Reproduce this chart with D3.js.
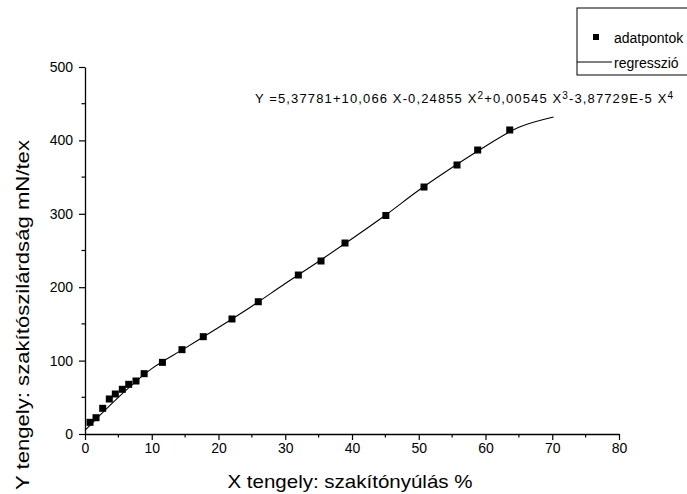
<!DOCTYPE html>
<html>
<head>
<meta charset="utf-8">
<script src="https://cdn.jsdelivr.net/npm/d3@7"></script>
<style>
  html, body { margin: 0; padding: 0; background: #fff; }
  svg { display: block; font-family: "Liberation Sans", Arial, sans-serif; }
</style>
</head>
<body>
<svg id="chart" width="687" height="494"></svg>
<script>
// ---- data ----
const pointX = [0.75, 1.65, 2.65, 3.64, 4.54, 5.59, 6.55, 7.64, 8.86, 11.6, 14.53, 17.72, 22.02, 25.96, 31.96, 35.36, 38.95, 45.07, 50.79, 55.73, 58.83, 63.63];
const pointY = [15.9, 22.2, 35.0, 47.7, 54.5, 60.9, 67.7, 72.2, 82.2, 97.6, 114.9, 132.6, 156.7, 180.2, 216.6, 235.7, 260.2, 297.7, 336.5, 366.5, 386.9, 414.2];
const curveX = [0, 5, 10, 15, 20, 25, 30, 35, 40, 45, 50, 55, 60, 65, 70.2];
const curveY = [5, 50, 89, 117, 145, 174, 205, 235, 266, 298, 332, 363, 392, 418, 432];
const xTicks = [0, 10, 20, 30, 40, 50, 60, 70, 80];
const yTicks = [0, 100, 200, 300, 400, 500];
const xMinor = [5, 15, 25, 35, 45, 55, 65, 75];
const yMinor = [50, 150, 250, 350, 450];
const legendLabels = ["adatpontok", "regresszió"];
const xTitle = "X tengely: szakítónyúlás %";
const yTitle = "Y tengely: szakítószilárdság mN/tex";

const svg = d3.select("#chart");
const x = d3.scaleLinear().domain([0, 80]).range([85, 619]);
const y = d3.scaleLinear().domain([0, 500]).range([434, 67]);

// axes
const xAxis = svg.append("g").attr("transform", `translate(0,${y(0)})`)
  .call(d3.axisBottom(x).tickValues(xTicks).tickSize(6).tickPadding(3).tickSizeOuter(0));
const yAxis = svg.append("g").attr("transform", `translate(${x(0)},0)`)
  .call(d3.axisLeft(y).tickValues(yTicks).tickSize(6).tickPadding(6).tickSizeOuter(0));
[xAxis, yAxis].forEach(g => {
  g.select(".domain").attr("stroke", "#000").attr("stroke-width", 1.3);
  g.selectAll(".tick line").attr("stroke", "#000").attr("stroke-width", 1.2);
  g.selectAll(".tick text").attr("fill", "#000").style("font-size", "14px").style("font-family", "Liberation Sans, Arial, sans-serif");
});
svg.append("g").selectAll("line").data(xMinor).join("line")
  .attr("x1", d => x(d)).attr("x2", d => x(d)).attr("y1", y(0)).attr("y2", y(0) + 3.5)
  .attr("stroke", "#000").attr("stroke-width", 1.2);
svg.append("g").selectAll("line").data(yMinor).join("line")
  .attr("y1", d => y(d)).attr("y2", d => y(d)).attr("x1", x(0)).attr("x2", x(0) - 3.5)
  .attr("stroke", "#000").attr("stroke-width", 1.2);

// regression curve
const curveData = curveX.map((v, i) => [v, curveY[i]]);
svg.append("path").datum(curveData)
  .attr("fill", "none").attr("stroke", "#000").attr("stroke-width", 1.1)
  .attr("d", d3.line().x(d => x(d[0])).y(d => y(d[1])).curve(d3.curveCatmullRom));

// data points
const ms = 7;
svg.append("g").selectAll("rect").data(pointX.map((v, i) => [v, pointY[i]])).join("rect")
  .attr("x", d => x(d[0]) - ms / 2).attr("y", d => y(d[1]) - ms / 2)
  .attr("width", ms).attr("height", ms).attr("fill", "#000");

// equation
const eq = svg.append("text").attr("x", 255).attr("y", 103).style("font-size", "13px").attr("fill", "#000")
  .attr("textLength", 418).attr("lengthAdjust", "spacing");
const parts = [["Y =5,37781+10,066 X-0,24855 X", false], ["2", true], ["+0,00545 X", false], ["3", true], ["-3,87729E-5 X", false], ["4", true]];
parts.forEach(([t, sup]) => {
  eq.append("tspan").text(t)
    .style("font-size", sup ? "10px" : "13px")
    .attr("dy", sup ? -4 : (t.startsWith("Y") ? 0 : 4));
});

// axis titles
svg.append("text").attr("x", 350).attr("y", 488).attr("text-anchor", "middle")
  .style("font-size", "19px").attr("fill", "#000")
  .attr("textLength", 245).attr("lengthAdjust", "spacingAndGlyphs").text(xTitle);
svg.append("text").attr("transform", "translate(29,315) rotate(-90)").attr("text-anchor", "middle")
  .style("font-size", "19px").attr("fill", "#000")
  .attr("textLength", 350).attr("lengthAdjust", "spacingAndGlyphs").text(yTitle);

// legend
const lg = svg.append("g");
lg.append("rect").attr("x", 577).attr("y", 8).attr("width", 130).attr("height", 67)
  .attr("fill", "#fff").attr("stroke", "#000").attr("stroke-width", 1);
lg.append("rect").attr("x", 596 - 3).attr("y", 37 - 3).attr("width", 6).attr("height", 6).attr("fill", "#000");
lg.append("line").attr("x1", 577).attr("x2", 612).attr("y1", 62).attr("y2", 62).attr("stroke", "#000").attr("stroke-width", 1);
lg.selectAll("text.l").data(legendLabels).join("text").attr("class", "l")
  .attr("x", 614).attr("y", (d, i) => 43 + i * 25)
  .style("font-size", "14px").attr("fill", "#000")
  .text(d => d);
</script>
</body>
</html>
